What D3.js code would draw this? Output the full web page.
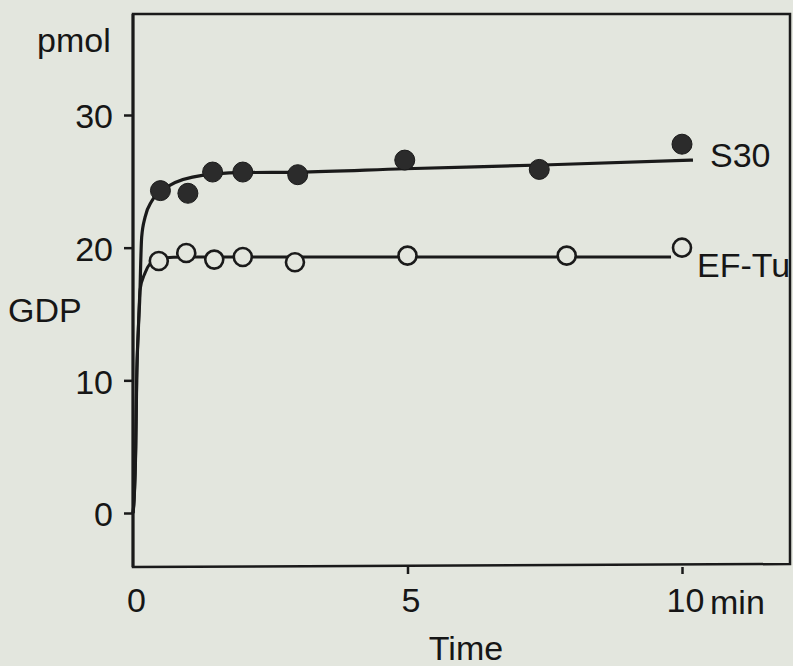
<!DOCTYPE html>
<html>
<head>
<meta charset="utf-8">
<script src="https://cdn.jsdelivr.net/npm/d3@7"></script>
<style>
  html, body { margin: 0; padding: 0; background: #e3e6de; }
  svg { display: block; }
  text { font-family: "Liberation Sans", Arial, sans-serif; fill: #161616; }
</style>
</head>
<body>
<svg id="chart" width="793" height="666"></svg>
<script>
// Measured GDP bound (pmol) over time (min)
const timesS30 = [0.5, 1, 1.45, 2, 3, 4.95, 7.4, 10];
const gdpS30   = [24.3, 24.1, 25.7, 25.7, 25.5, 26.6, 25.9, 27.8];

const timesEFTu = [0.47, 0.97, 1.48, 2, 2.95, 5, 7.9, 10];
const gdpEFTu   = [19.0, 19.6, 19.1, 19.3, 18.9, 19.4, 19.4, 20.0];

// Hand-drawn trend curves through each series
const fitS30Times  = [0, 0.02, 0.05, 0.067, 0.097, 0.128, 0.14, 0.158, 0.22, 0.34, 0.46, 0.67, 1.26, 1.95, 3.0, 4.95, 7.6, 10.2];
const fitS30Values = [0, 1, 5, 10, 13.8, 16.8, 18.8, 20.8, 22.3, 23.5, 24.1, 24.7, 25.45, 25.65, 25.7, 25.95, 26.25, 26.6];

const fitEFTuTimes  = [0, 0.02, 0.05, 0.067, 0.097, 0.128, 0.22, 0.31, 0.47, 1.0, 5.0, 9.8];
const fitEFTuValues = [0, 1, 5, 10, 13.8, 16.8, 18.1, 18.8, 19.2, 19.3, 19.3, 19.3];

const yTickValues = [0, 10, 20, 30];
const xTickValues = [0, 5, 10];

const svg = d3.select("#chart");
const ink = "#1a1a1a";
const fontFamily = "Liberation Sans, Arial, sans-serif";

const x = d3.scaleLinear().domain([0, 10]).range([133, 682]);
const y = d3.scaleLinear().domain([0, 30]).range([513, 115]);

// Plot frame
const frame = { left: x(0), top: 14, right: 790, bottom: 567 };
svg.append("path")
  .attr("d", `M${frame.left},${frame.top} H${frame.right} V${frame.bottom - 3} L${frame.left},${frame.bottom} Z`)
  .attr("fill", "none")
  .attr("stroke", ink)
  .attr("stroke-width", 2.5);
svg.append("line")
  .attr("x1", frame.left).attr("x2", frame.left)
  .attr("y1", frame.top).attr("y2", frame.bottom)
  .attr("stroke", ink).attr("stroke-width", 3);

// Y axis ticks and labels
const yAxis = d3.axisLeft(y).tickValues(yTickValues).tickSize(9).tickPadding(11).tickFormat(d3.format("d"));
const gy = svg.append("g").attr("transform", `translate(${frame.left},0)`).call(yAxis);
gy.select(".domain").remove();
gy.selectAll(".tick line").attr("stroke", ink).attr("stroke-width", 2.5);
gy.selectAll(".tick text").attr("font-size", 34).attr("dy", "0.38em")
  .style("font-family", fontFamily).attr("fill", "#161616");

// X axis ticks and labels
const xAxis = d3.axisBottom(x).tickValues(xTickValues).tickSize(7).tickPadding(14).tickFormat(d3.format("d"));
const gx = svg.append("g").attr("transform", `translate(0,${frame.bottom})`).call(xAxis);
gx.select(".domain").remove();
gx.selectAll(".tick line").attr("stroke", ink).attr("stroke-width", 2.5)
  .attr("display", d => d === 0 ? "none" : null);
gx.selectAll(".tick text").attr("font-size", 34).attr("dx", 3)
  .style("font-family", fontFamily).attr("fill", "#161616");

// Unit and axis titles
svg.append("text").attr("x", 710).attr("y", 614).attr("font-size", 34).text("min");
svg.append("text").attr("x", 466).attr("y", 660).attr("font-size", 34).attr("text-anchor", "middle").text("Time");
svg.append("text").attr("x", 37).attr("y", 52).attr("font-size", 34).text("pmol");
svg.append("text").attr("x", 8).attr("y", 322).attr("font-size", 34).text("GDP");

// Trend curves
const line = d3.line().x(d => x(d[0])).y(d => y(d[1])).curve(d3.curveMonotoneX);
svg.append("path")
  .datum(d3.zip(fitEFTuTimes, fitEFTuValues))
  .attr("d", line).attr("fill", "none").attr("stroke", ink).attr("stroke-width", 3);
svg.append("path")
  .datum(d3.zip(fitS30Times, fitS30Values))
  .attr("d", line).attr("fill", "none").attr("stroke", ink).attr("stroke-width", 3.2);

// Data points
svg.append("g").selectAll("circle")
  .data(d3.zip(timesEFTu, gdpEFTu))
  .join("circle")
  .attr("cx", d => x(d[0])).attr("cy", d => y(d[1])).attr("r", 9)
  .attr("fill", "#e3e6de").attr("stroke", ink).attr("stroke-width", 2.6);

svg.append("g").selectAll("circle")
  .data(d3.zip(timesS30, gdpS30))
  .join("circle")
  .attr("cx", d => x(d[0])).attr("cy", d => y(d[1])).attr("r", 10)
  .attr("fill", "#2b2b2b").attr("stroke", "#1a1a1a").attr("stroke-width", 1);

// Series labels
svg.append("text").attr("x", 710).attr("y", 167).attr("font-size", 34).text("S30");
svg.append("text").attr("x", 697).attr("y", 277).attr("font-size", 34).text("EF-Tu");
</script>
</body>
</html>
